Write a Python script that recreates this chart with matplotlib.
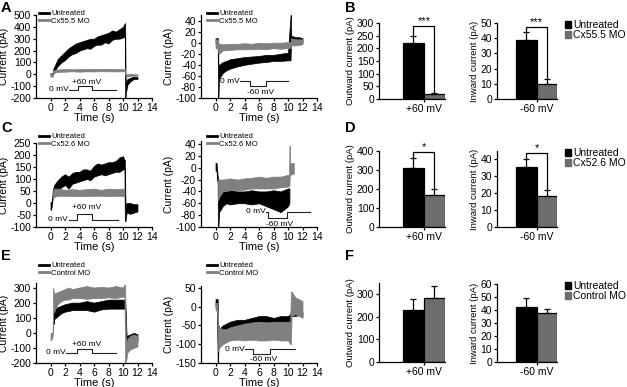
import matplotlib
matplotlib.use("Agg")
import matplotlib.pyplot as plt
from matplotlib.patches import Patch
from matplotlib.lines import Line2D

plt.rcParams["font.family"] = ["Liberation Sans", "DejaVu Sans"]
plt.rcParams["font.size"] = 7.5
plt.rcParams["axes.linewidth"] = 0.9
plt.rcParams["axes.unicode_minus"] = False

TRACE_GREY = "#808080"
BAR_GREY = "#6e6e6e"

# ---- current traces: time (s), lower / upper envelope (pA) ----
# A, +60 mV
a1_blk_t = [0.0, 0.3, 0.35, 0.5, 1.0, 1.5, 2.0, 2.5, 3.0, 3.5, 4.0, 4.5, 5.0, 5.5, 6.0, 6.5,
            7.0, 7.5, 8.0, 8.5, 9.0, 9.5, 10.0, 10.25, 10.3, 10.35, 10.4, 10.6, 11.0, 11.5, 12.0]
a1_blk_lo = [-10, -10, 0, 20, 70, 100, 120, 150, 170, 180, 200, 210, 220, 215, 240, 250,
             250, 270, 260, 290, 300, 300, 310, 320, -200, -200, -160, -90, -60, -40, -40]
a1_blk_hi = [10, 10, 40, 60, 130, 160, 190, 220, 240, 260, 270, 280, 290, 300, 300, 320,
             330, 340, 350, 370, 360, 380, 400, 430, 430, 0, -80, -40, -30, -20, -20]
a1_gry_t = [0.0, 0.3, 0.4, 1, 2, 3, 4, 5, 6, 7, 8, 9, 10, 10.3, 10.35, 10.5, 11, 11.5, 12]
a1_gry_lo = [-20, -20, 10, 20, 22, 25, 22, 25, 24, 26, 25, 24, 25, 25, -20, -20, -15, -12, -10]
a1_gry_hi = [10, 10, 35, 40, 45, 42, 45, 44, 46, 45, 46, 44, 45, 45, 0, 0, 5, 2, 0]
# A, -60 mV
a2_blk_t = [0.0, 0.3, 0.35, 0.4, 0.5, 1, 1.5, 2, 3, 4, 5, 6, 7, 8, 9, 10,
            10.35, 10.4, 10.45, 10.6, 11, 11.5, 12]
a2_blk_lo = [0, 0, -100, -100, -65, -55, -50, -47, -43, -40, -38, -36, -35, -33, -33, -32,
             -32, -5, 0, 0, 0, 0, 0]
a2_blk_hi = [8, 8, 8, -40, -40, -35, -33, -30, -28, -26, -25, -24, -22, -22, -20, -18,
             50, 50, 12, 12, 10, 10, 8]
a2_gry_t = [0.0, 0.3, 0.4, 0.5, 1, 2, 3, 4, 5, 6, 7, 8, 9, 10, 10.35, 10.4, 11, 12]
a2_gry_lo = [-10, -10, -20, -20, -14, -13, -12, -12, -12, -11, -12, -10, -11, -10, -10, -5, -5, -3]
a2_gry_hi = [6, 6, 0, -2, -3, -2, -2, -1, -2, 0, -1, 0, 0, 1, 1, 8, 6, 6]
# C, +60 mV
c1_blk_t = [0, 0.1, 0.2, 0.3, 0.5, 1, 1.5, 2, 2.5, 3, 3.5, 4, 4.5, 5, 5.5, 6, 6.5, 7, 7.5,
            8, 8.5, 9, 9.5, 10, 10.2, 10.25, 10.35, 10.5, 11, 11.5, 12]
c1_blk_lo = [-30, -25, -10, 20, 40, 55, 65, 75, 60, 80, 85, 90, 95, 100, 95, 110, 115, 120, 115,
             120, 125, 130, 130, 140, 140, -75, -75, -40, -45, -40, -35]
c1_blk_hi = [5, 0, 10, 50, 75, 95, 110, 120, 110, 125, 130, 130, 140, 140, 135, 155, 165, 160, 165,
             170, 170, 175, 190, 195, 180, 180, -20, 0, 0, -5, -5]
c1_gry_t = [0.3, 0.5, 1, 2, 3, 4, 5, 6, 7, 8, 9, 10, 10.2]
c1_gry_lo = [20, 25, 30, 30, 28, 30, 28, 30, 30, 28, 30, 28, 30]
c1_gry_hi = [45, 60, 60, 55, 58, 55, 58, 60, 55, 60, 58, 60, 55]
# C, -60 mV
c2_blk_t = [0.0, 0.15, 0.2, 0.3, 0.33, 0.4, 0.5, 1, 1.5, 2, 3, 4, 5, 6, 7, 8, 9, 10, 10.2]
c2_blk_lo = [-5, -5, -20, -25, -100, -100, -75, -65, -60, -62, -60, -60, -62, -60, -65, -70, -75,
             -65, -60]
c2_blk_hi = [8, 8, 0, -15, -15, -50, -45, -40, -40, -38, -40, -40, -38, -40, -40, -38, -40,
             -35, -35]
c2_gry_t = [0.35, 0.5, 1, 2, 3, 4, 5, 6, 7, 8, 9, 10, 10.15, 10.2, 10.25, 10.3, 10.8]
c2_gry_lo = [-55, -50, -40, -38, -38, -37, -35, -35, -35, -35, -33, -32, -30, -30, -12, -12, -10]
c2_gry_hi = [-20, -20, -20, -18, -20, -18, -17, -15, -17, -15, -15, -12, -12, 37, 37, 8, 8]
# E, +60 mV
e1_blk_t = [0.45, 0.5, 1, 1.5, 2, 3, 4, 5, 6, 7, 8, 9, 10, 10.3, 10.5, 11, 11.5, 12]
e1_blk_lo = [60, 90, 110, 130, 140, 150, 150, 150, 140, 155, 160, 160, 160, 160, -100, -80, -70, -60]
e1_blk_hi = [130, 160, 170, 180, 190, 200, 200, 210, 200, 210, 220, 220, 220, 220, -20, -10, 0, -10]
e1_gry_t = [0, 0.2, 0.3, 0.35, 0.5, 1, 1.5, 2, 2.5, 3, 4, 5, 6, 7, 8, 9, 10, 10.2, 10.3, 10.4,
            10.6, 11, 11.5, 12]
e1_gry_lo = [-50, -40, -20, 130, 140, 190, 210, 220, 220, 230, 230, 225, 230, 230, 235, 230, 240, 240,
             -200, -200, -130, -110, -100, -90]
e1_gry_hi = [0, 0, 0, 300, 260, 270, 280, 290, 300, 290, 300, 310, 300, 305, 300, 310, 300, 320,
             320, -80, -40, -20, -10, -20]
# E, -60 mV
e2_blk_t = [0, 0.2, 0.3, 0.35, 0.45, 0.5, 1, 1.5, 2, 3, 4, 5, 6, 7, 8, 9, 10, 10.3, 10.45, 11, 11.5, 12]
e2_blk_lo = [0, 0, -150, -150, -80, -75, -65, -60, -55, -50, -48, -45, -40, -42, -45, -40, -42, -45,
             -25, -25, -22, -25]
e2_blk_hi = [20, 20, 20, -50, -50, -60, -50, -45, -40, -35, -35, -30, -25, -25, -30, -25, -25, -20,
             -10, -10, -12, -15]
e2_gry_t = [0, 0.25, 0.35, 0.5, 1, 1.5, 2, 3, 4, 5, 6, 7, 8, 9, 10, 10.3, 10.4, 10.5, 11, 11.5, 12]
e2_gry_lo = [-10, -10, -120, -110, -100, -95, -90, -88, -90, -88, -90, -90, -88, -90, -90, -100,
             -100, -25, -20, -25, -30]
e2_gry_hi = [10, 10, -50, -55, -60, -60, -55, -50, -45, -42, -40, -42, -40, -40, -40, -40,
             40, 40, 25, 20, 15]

# voltage protocol insets (drawn in data units of each trace panel)
a1_prot_t = [2.6, 3.8, 3.8, 5.7, 5.7, 9.0]
a1_prot_v = [-130, -130, -100, -100, -130, -130]
a2_prot_t = [3.4, 4.8, 4.8, 6.9, 6.9, 10.0]
a2_prot_v = [-70, -70, -79, -79, -70, -70]
c1_prot_t = [2.5, 3.6, 3.6, 5.7, 5.7, 9.3]
c1_prot_v = [-70, -70, -45, -45, -70, -70]
c2_prot_t = [7.0, 7.3, 7.3, 9.8, 9.8, 13.0]
c2_prot_v = [-74, -74, -84, -84, -74, -74]
e1_prot_t = [2.2, 3.6, 3.6, 5.7, 5.7, 9.0]
e1_prot_v = [-133, -133, -104, -104, -133, -133]
e2_prot_t = [4.1, 5.2, 5.2, 7.5, 7.5, 11.0]
e2_prot_v = [-113, -113, -125, -125, -113, -113]

# ---- bar summaries (mean, SEM) ----
groups = ["Untreated", "Cx55.5 MO", "Cx52.6 MO", "Control MO"]
b_out, b_out_err = [220, 20], [30, 4]
b_in, b_in_err = [39, 10], [5, 3]
d_out, d_out_err = [310, 170], [55, 32]
d_in, d_in_err = [35.5, 18.5], [5, 3.5]
f_out, f_out_err = [232, 282], [45, 55]
f_in, f_in_err = [42, 38], [7, 3]

W, H = 627, 387
fig = plt.figure(figsize=(W / 100, H / 100), dpi=100)


def px_axes(x0, y0, x1, y1):
    return fig.add_axes([x0 / W, 1 - y1 / H, (x1 - x0) / W, (y1 - y0) / H])


def style(ax):
    for s in ("top", "right"):
        ax.spines[s].set_visible(False)
    ax.tick_params(direction="out", length=2.5, width=0.9, pad=1, labelsize=7.5)


def trace_panel(ax, blk, gry, prot, ylim, yticks, labels, up, leg_xy):
    ax.fill_between(blk[0], blk[1], blk[2], color="black", lw=0.5)
    ax.fill_between(gry[0], gry[1], gry[2], color=TRACE_GREY, edgecolor=TRACE_GREY, lw=0.5)
    ax.plot(prot[0], prot[1], color="#222222", lw=0.8)
    t, v = prot
    ax.text(t[0] - 0.1, v[0], "0 mV", fontsize=6, ha="right", va="center")
    step = v[2] - v[0]
    ymid = v[2] + (1.0 * step if up else 1.2 * step)
    ax.text((t[1] + t[3]) / 2 + 0.3, ymid, "+60 mV" if up else "-60 mV",
            fontsize=6, ha="center", va="center")
    ax.set_xlim(-2, 14)
    ax.set_ylim(*ylim)
    ax.set_xticks(range(0, 15, 2))
    ax.set_yticks(yticks)
    ax.set_xlabel("Time (s)", labelpad=0, fontsize=8)
    ax.set_ylabel("Current (pA)", labelpad=1, fontsize=7.5)
    style(ax)
    hs = [Line2D([], [], color="black", lw=2), Line2D([], [], color=TRACE_GREY, lw=2)]
    ax.legend(hs, labels, loc="upper left", bbox_to_anchor=(leg_xy[0] / W, 1 - leg_xy[1] / H),
              bbox_transform=fig.transFigure, frameon=False, fontsize=5.5, borderpad=0,
              borderaxespad=0, handlelength=1.3, handletextpad=0.3, labelspacing=0.05)


def bar_panel(ax, vals, errs, xlim, ylim, yticks, ylabel, xlabel, sig=None):
    ax.bar([0, 1], vals, width=1, color=["black", BAR_GREY], edgecolor="black", linewidth=0.9)
    ax.errorbar([0, 1], vals, yerr=[[0, 0], errs], fmt="none", ecolor="black",
                elinewidth=0.9, capsize=2.5, capthick=0.9)
    if sig:
        stars, ybr = sig
        ax.plot([0, 0, 1, 1], [vals[0] + errs[0], ybr, ybr, vals[1] + errs[1]],
                color="black", lw=0.9, clip_on=False)
        ax.text(0.5, ybr, stars, ha="center", va="bottom", fontsize=8, clip_on=False)
    ax.set_xlim(*xlim)
    ax.set_ylim(*ylim)
    ax.set_yticks(yticks)
    ax.set_xticks([0.5])
    ax.set_xticklabels([xlabel], fontsize=8)
    ax.tick_params(axis="x", length=0)
    ax.set_ylabel(ylabel, labelpad=1, fontsize=6.8)
    style(ax)


def bar_legend(ax, label, y_top):
    hs = [Patch(color="black"), Patch(color=BAR_GREY)]
    ax.legend(hs, ["Untreated", label], loc="upper left", bbox_to_anchor=(565 / W, 1 - y_top / H),
              bbox_transform=fig.transFigure, frameon=False, fontsize=7.5, borderpad=0,
              borderaxespad=0, handlelength=0.6, handleheight=0.6, handletextpad=0.15,
              labelspacing=0.0)


# row A / B
ax = px_axes(36, 15, 152, 98)
trace_panel(ax, (a1_blk_t, a1_blk_lo, a1_blk_hi), (a1_gry_t, a1_gry_lo, a1_gry_hi),
            (a1_prot_t, a1_prot_v), (-200, 500), range(-200, 501, 100),
            [groups[0], groups[1]], True, (39, 10))
ax = px_axes(201, 15, 317, 98)
trace_panel(ax, (a2_blk_t, a2_blk_lo, a2_blk_hi), (a2_gry_t, a2_gry_lo, a2_gry_hi),
            (a2_prot_t, a2_prot_v), (-100, 50), range(-100, 41, 20),
            [groups[0], groups[1]], False, (207, 10))
ax = px_axes(379, 23, 445, 99)
bar_panel(ax, b_out, b_out_err, (-1.64, 1.5), (0, 300), range(0, 301, 50),
          "Outward current (pA)", "+60 mV", ("***", 288))
ax = px_axes(497, 23, 557, 99)
bar_panel(ax, b_in, b_in_err, (-1.43, 1.5), (0, 50), range(0, 51, 10),
          "Inward current (pA)", "-60 mV", ("***", 47.5))
bar_legend(ax, groups[1], 20)

# row C / D
ax = px_axes(36, 143, 152, 227)
trace_panel(ax, (c1_blk_t, c1_blk_lo, c1_blk_hi), (c1_gry_t, c1_gry_lo, c1_gry_hi),
            (c1_prot_t, c1_prot_v), (-100, 250), range(-100, 251, 50),
            [groups[0], groups[2]], True, (39, 133))
ax = px_axes(201, 141, 317, 227)
trace_panel(ax, (c2_blk_t, c2_blk_lo, c2_blk_hi), (c2_gry_t, c2_gry_lo, c2_gry_hi),
            (c2_prot_t, c2_prot_v), (-100, 45), range(-100, 41, 20),
            [groups[0], groups[2]], False, (207, 133))
ax = px_axes(379, 151, 445, 227)
bar_panel(ax, d_out, d_out_err, (-1.64, 1.5), (0, 400), range(0, 401, 100),
          "Outward current (pA)", "+60 mV", ("*", 395))
ax = px_axes(497, 151, 557, 227)
bar_panel(ax, d_in, d_in_err, (-1.43, 1.5), (0, 45), range(0, 41, 10),
          "Inward current (pA)", "-60 mV", ("*", 44))
bar_legend(ax, groups[2], 148)

# row E / F
ax = px_axes(36, 283, 152, 363)
trace_panel(ax, (e1_blk_t, e1_blk_lo, e1_blk_hi), (e1_gry_t, e1_gry_lo, e1_gry_hi),
            (e1_prot_t, e1_prot_v), (-200, 330), range(-200, 301, 100),
            [groups[0], groups[3]], True, (39, 262))
ax = px_axes(201, 286, 317, 363)
trace_panel(ax, (e2_blk_t, e2_blk_lo, e2_blk_hi), (e2_gry_t, e2_gry_lo, e2_gry_hi),
            (e2_prot_t, e2_prot_v), (-150, 55), range(-150, 51, 50),
            [groups[0], groups[3]], False, (207, 262))
ax = px_axes(379, 283, 445, 362)
bar_panel(ax, f_out, f_out_err, (-1.64, 1.5), (0, 350), range(0, 301, 100),
          "Outward current (pA)", "+60 mV")
ax = px_axes(497, 284, 557, 362)
bar_panel(ax, f_in, f_in_err, (-1.43, 1.5), (0, 60), range(0, 61, 10),
          "Inward current (pA)", "-60 mV")
bar_legend(ax, groups[3], 281)

for lab, x, y in [("A", 1, 1), ("B", 345, 1), ("C", 1, 121), ("D", 345, 121),
                  ("E", 1, 249), ("F", 345, 249)]:
    fig.text(x / W, 1 - y / H, lab, fontsize=10.5, fontweight="bold", ha="left", va="top")

fig.savefig("out.png", dpi=100)
